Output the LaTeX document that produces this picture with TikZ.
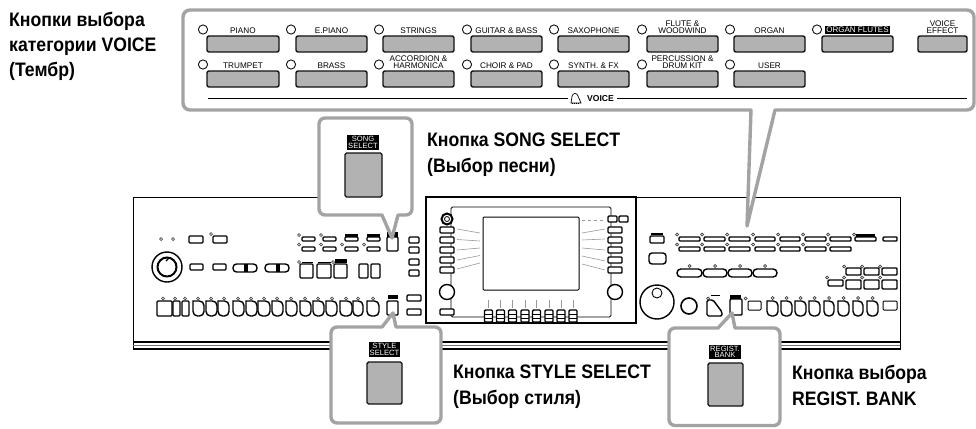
\documentclass[tikz,border=0pt]{standalone}
\usepackage{fontspec}
\setmainfont{Liberation Sans}
\definecolor{callout}{HTML}{A3A3A3}
\definecolor{keyfill}{HTML}{B2B2B2}
\definecolor{ink}{HTML}{111111}
\tikzset{
  callbox/.style={draw=callout,line width=3.4pt,fill=white,line join=round},
  keybtn/.style={draw=ink,line width=1.4pt,fill=keyfill,rounded corners=2pt},
  lamp/.style={draw=ink,line width=.9pt,fill=white},
  keylabel/.style={inner sep=0pt,align=center,text=black,font=\fontsize{8.2}{7.4}\selectfont},
  tag/.style={fill=black,text=white,inner sep=0pt,align=center,font=\fontsize{7.6}{6.6}\selectfont},
  caption/.style={inner sep=0pt,anchor=base west,text=black,font=\fontsize{19.5}{22}\selectfont\bfseries},
  pline/.style={draw=black,line width=1.4pt},
  box/.style={draw=black,line width=1.4pt,fill=white,rounded corners=1pt},
  led/.style={draw=black!75,line width=.7pt,fill=white},
  fan/.style={draw=black!40,line width=.6pt}
}
\newcommand{\RB}[2]{\draw[pline,fill=white] (#1,301) [rounded corners=4.5pt] -- (#1,316) -- (#2,316) -- (#2,301) [sharp corners] -- cycle;}
\newcommand{\LED}[2]{\draw[led] ({#1},{#2}) circle (1.5pt);}
\newcommand{\capt}[1]{\scalebox{.905}[1]{#1}}
\begin{document}
\begin{tikzpicture}[x=1pt,y=-1pt]
\useasboundingbox (0,0) rectangle (976,428);
% keyboard body
\draw[line width=1pt] (320,197) -- (133,197) -- (133,349) -- (900,349) -- (900,197) -- (636,197);
\draw[line width=1.6pt] (133,342) -- (900,342);
\draw[line width=1.6pt] (133,349) -- (900,349);
\draw[black!55,line width=.7pt] (133,345.5) -- (900,345.5);
% screen block
\draw[line width=1.8pt,fill=white] (426,197) rectangle (636,323);
\draw[line width=.8pt,rounded corners=1.5pt] (451,207) rectangle (611,317);
\draw[line width=1pt,rounded corners=1pt,fill=white] (483,217) rectangle (579,290);
\foreach \y in {230,240,250,260,270}{
  \draw[box,fill=white] (440,\y-3) rectangle (454,\y+3);
  \draw[box] (608,\y-3) rectangle (622,\y+3);
}
\draw[box] (608,216) rectangle (617,222);
\draw[box] (619,216) rectangle (628,222);
\draw[line width=2pt,fill=white] (447,219) circle (5.5pt);
\draw[line width=.8pt] (447,219) circle (2.5pt);
\draw[pline,fill=white] (447,292) circle (7.5pt);
\draw[pline,fill=white] (615,292) circle (7.5pt);
\draw[box] (440,309) rectangle (454,315);
\foreach \x in {488.5,500.5,512.5,525,536.5,549,561,573}{
  \draw[fan] (\x,300) -- (\x,308);
  \draw[box] (\x-4,310) rectangle (\x+4,322);
  \draw[line width=.8pt] (\x-4,314) -- (\x+4,314) (\x-4,318) -- (\x+4,318);
}
\foreach \a/\b/\c/\d in {457/229/480/233,457/239.5/480/241,457/250/480/248,457/260/480/255.5,457/269/480/263,
  582/233/605/229,582/240/605/239,582/248/605/250,582/256/605/261,582/264/605/270}{
  \draw[fan] (\a,\b) -- (\c,\d);
}
\draw[fan,dashed] (582,220) -- (605,220);
% left section
\LED{161}{239}\LED{173}{239}
\draw[box] (189,236) rectangle (203,243);
\draw[box] (213,236) rectangle (227,243);
\LED{211}{234}
\draw[pline] (167,267) circle (15pt);
\draw[line width=2pt] (167,267) circle (9.5pt);
\draw[line width=1.2pt] (167,267) ++(2,-9) -- ++(-3,3);
\draw[box] (190,264) rectangle (203,270);
\draw[box] (213,264) rectangle (226,270);
\draw[pline,rounded corners=3.5pt] (233,264) rectangle (257,272);
\draw[pline] (245,264) -- (245,272) (247,264) -- (247,272);
\draw[pline,rounded corners=3.5pt] (265,264) rectangle (289,272);
\draw[pline] (277,264) -- (277,272) (279,264) -- (279,272);
\foreach \a/\b in {302/315,323/336,345/358,367/380}{
  \draw[box] (\a,237) rectangle (\b,241);
  \draw[box] (\a,247) rectangle (\b,251);
}
\foreach \x in {299,321,342,364}{\LED{\x}{244.5}}
\LED{299}{235}\LED{321}{235}
\fill (345,233.5) rectangle (358,236.5);
\fill (367,233.5) rectangle (380,236.5);
\draw[box] (387,237) rectangle (398,251);
\fill (387,232) rectangle (398,237);
\foreach \y in {237,247,259,270}{\draw[box] (409,\y) rectangle (419,\y+6);}
\draw[box] (300,264) rectangle (313,278);
\draw[box] (317,264) rectangle (331,278);
\draw[box] (334,264) rectangle (347,278);
\LED{299}{262}
\draw[line width=1pt] (302,262) -- (313,262) (318,262) -- (331,262);
\fill (335,259) rectangle (347,263);
\LED{333}{262}
\draw[box] (359,264) rectangle (368,278);
\draw[box] (371,264) rectangle (380,278);
\draw[box] (157,301) rectangle (172,316);
\foreach \a/\b in {173/180,182/189}{\draw[box] (\a,301) rectangle (\b,316);}
\foreach \a/\b in {193/204,206/217,218/229,233/244,246/257,258/270,272/283,286/297,300/311,313/324,326/337,340/352,353/363,367/379}{
  \RB{\a}{\b}
}
\foreach \x in {163,175,185,198,211,224,238,251,264,277,291,305,318,332,346,358,373}{\LED{\x}{298.5}}
\draw[box] (387,301) rectangle (398,315);
\fill (388,295) rectangle (398,298.5);
\draw[box] (407,295) rectangle (421,301);
\draw[box] (407,309) rectangle (421,315);
% right section
\draw[box] (650,236) rectangle (664,243);
\fill (651,233) rectangle (663,234.5);
\draw[pline,rounded corners=3pt] (649,253) rectangle (666,264);
\foreach \a/\b in {679/700,704/725,729/750,755/775,780/800,805/826,830/851}{
  \draw[box] (\a,237) rectangle (\b,241);
  \draw[box] (\a,247) rectangle (\b,251);
  \LED{\a-2}{234.5}
  \LED{\a-2}{244.5}
}
\draw[box] (855,237) rectangle (876,241);
\fill (856,233.5) rectangle (875,236.5);
\LED{854}{234.5}
\draw[box] (883,237) rectangle (897,241);
\foreach \a/\b in {677/702,703/727,728/752,753/777}{
  \draw[pline,rounded corners=3.8pt] (\a,269) rectangle (\b,277);
  \LED{(\a+\b)/2}{266}
}
\foreach \a/\b in {846/861,864/879,882/897}{
  \draw[box] (\a,268) rectangle (\b,275);
  \draw[box] (\a,280) rectangle (\b,289);
  \LED{\a-2}{266.5}
  \LED{\a-2}{277.5}
}
\draw[box] (828,280) rectangle (843,286);
\LED{827}{277.5}
\draw[pline] (657,302) circle (17pt);
\draw[line width=.9pt] (657,293) circle (5pt);
\draw[line width=1.6pt] (689,306) circle (8pt);
\draw[pline,rounded corners=1.5pt] (707,300) -- (713,300) -- (722,312) -- (722,316) -- (707,316) -- cycle;
\draw[line width=1pt] (711,295) -- (720,295);
\LED{708}{298.5}
\draw[box] (730,299) rectangle (742,315);
\fill (730,295) rectangle (741,298.5);
\LED{745.5}{298.5}
\draw[line width=1pt,rounded corners=1pt] (748,301) rectangle (761,310);
\foreach \a/\b in {767/778,781/792,795/806,809/820,824/834,838/849,853/863,867/878}{
  \RB{\a}{\b}
  \LED{(\a+\b)/2}{298}
}
\draw[line width=1pt,rounded corners=1pt] (883,301) rectangle (897,310);
% VOICE callout
\draw[callbox] (751,110) [rounded corners=7pt] -- (183,110) -- (183,10) -- (974,10) -- (974,110) [sharp corners] -- (775,110) -- (747,226) -- cycle;
\foreach \n/\a/\b/\y/\lx/\t in {
  pi/207/279/36/203/{PIANO},ep/296/367/36/291/{E.PIANO},st/383/454/36/379/{STRINGS},gu/471/542/36/467/{GUITAR \& BASS},
  sa/558/629/36/554/{SAXOPHONE},fl/647/718/36/642/{FLUTE \&\\WOODWIND},or/734/805/36/730/{ORGAN},
  tr/207/279/71/203/{TRUMPET},br/296/367/71/291/{BRASS},ac/383/454/71/379/{ACCORDION \&\\HARMONICA},ch/471/542/71/467/{CHOIR \& PAD},
  sy/558/629/71/554/{SYNTH. \& FX},pe/647/718/71/642/{PERCUSSION \&\\DRUM KIT},us/734/805/71/730/{USER}}{
  \draw[keybtn] (\a,\y) rectangle (\b,\y+16);
  \draw[lamp] (\lx,\y-6.5) circle (4.6pt);
  \node[keylabel,anchor=south] (lab\n) at ({(\a+\b)/2},\y-2) {\t};
}
\draw[keybtn] (822,36) rectangle (893,52);
\draw[lamp] (817,29.5) circle (4.6pt);
\node[tag,font=\fontsize{8}{7}\selectfont,minimum width=65pt,minimum height=7.5pt] (labof) at (857.5,30) {ORGAN FLUTES};
\draw[keybtn] (918,36) rectangle (967,52);
\node[keylabel,anchor=south] (labve) at (942.5,34) {VOICE\\EFFECT};
% VOICE rule
\node[inner sep=0pt,text=black,font=\fontsize{8.6}{9}\selectfont\bfseries] (voice) at (600.5,98.5) {VOICE};
\coordinate (ruleA) at (208,98.5);
\coordinate (ruleB) at (568,98.5);
\coordinate (ruleC) at (967,98.5);
\draw[line width=.9pt] (ruleA) -- (ruleB);
\draw[line width=.9pt] (voice.east) ++(3,0) -- (ruleC);
\draw[line width=.7pt] (571,103) -- (572,96.5) .. controls (572.5,92.5) and (577,92.5) .. (578,96) -- (581,103) -- cycle;
\draw[line width=1pt,dash pattern=on 1pt off 1pt] (571.5,103.3) -- (579,103.3);
% SONG callout
\draw[callbox] (382,215) [rounded corners=6pt] -- (319,215) -- (319,118) -- (412,118) -- (412,215) [sharp corners] -- (398,215) -- (392,238) -- cycle;
\draw[keybtn,rounded corners=1.5pt] (345,153) rectangle (382,197);
\node[tag,minimum width=32pt,minimum height=15pt] (tagsong) at (363,142.5) {SONG\\SELECT};
% STYLE callout
\draw[callbox] (382,327) [rounded corners=6pt] -- (331,327) -- (331,423) -- (441,423) -- (441,327) [sharp corners] -- (396,327) -- (393,313) -- cycle;
\draw[keybtn,rounded corners=1.5pt] (367,362) rectangle (402,404);
\node[tag,minimum width=31pt,minimum height=15pt] (tagstyle) at (384.5,349.5) {STYLE\\SELECT};
% REGIST callout
\draw[callbox] (718,328) [rounded corners=6pt] -- (669,328) -- (669,425.5) -- (780,425.5) -- (780,328) [sharp corners] -- (735,328) -- (732,313) -- cycle;
\draw[keybtn,rounded corners=1.5pt] (708,363) rectangle (743,406);
\node[tag,minimum width=32pt,minimum height=14.5pt] (tagreg) at (725,352) {REGIST.\\BANK};
% captions
\node[caption] (c1) at (9,27) {\capt{Кнопки выбора}};
\node[caption] (c2) at (9,52) {\capt{категории VOICE}};
\node[caption] (c3) at (9,77) {\capt{(Тембр)}};
\node[caption] (c4) at (427,146) {\capt{Кнопка SONG SELECT}};
\node[caption] (c5) at (427,172) {\capt{(Выбор песни)}};
\node[caption] (c6) at (453,378) {\capt{Кнопка STYLE SELECT}};
\node[caption] (c7) at (453,404) {\capt{(Выбор стиля)}};
\node[caption] (c8) at (792,379) {\capt{Кнопка выбора}};
\node[caption] (c9) at (792,405) {\capt{REGIST. BANK}};
\end{tikzpicture}
\end{document}
